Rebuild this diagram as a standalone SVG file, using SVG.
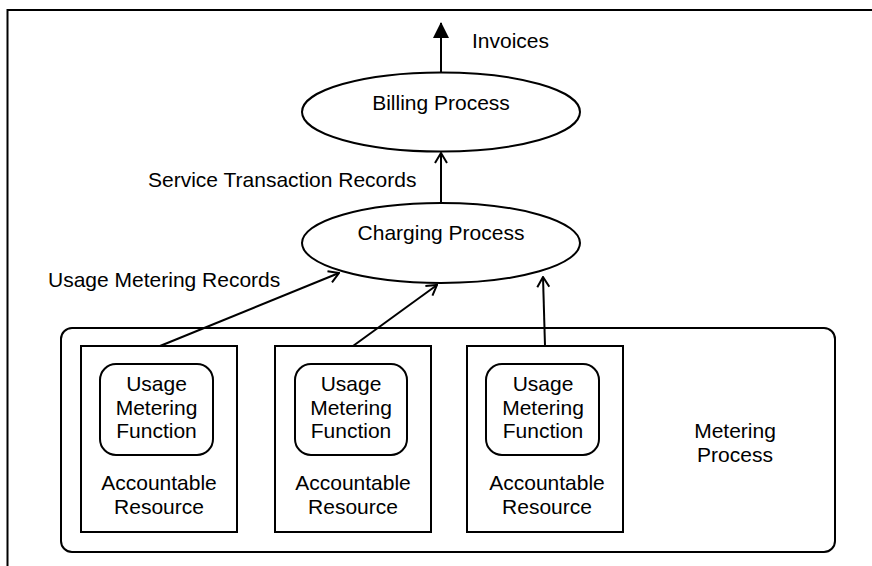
<svg xmlns="http://www.w3.org/2000/svg" width="872" height="566" viewBox="0 0 872 566">
<defs>
<style>
text{font-family:"Liberation Sans",Arial,sans-serif;font-size:21px;fill:#000}
.c{text-anchor:middle}
.s{fill:none;stroke:#000;stroke-width:2}
.ln{fill:none;stroke:#000;stroke-width:2}
</style>
<marker id="open" viewBox="0 0 12 14" refX="11" refY="7" markerWidth="12" markerHeight="14" markerUnits="userSpaceOnUse" orient="auto">
<path d="M1,1 L11,7 L1,13" fill="none" stroke="#000" stroke-width="2"/>
</marker>
<marker id="solid" viewBox="0 0 16 16" refX="15" refY="8" markerWidth="16" markerHeight="16" markerUnits="userSpaceOnUse" orient="auto">
<path d="M0,0 L16,8 L0,16 Z" fill="#000"/>
</marker>
</defs>
<rect width="872" height="566" fill="#fff"/>
<path d="M7.5,566 L7.5,10 L872,10" class="s"/>

<g id="billing">
<ellipse cx="441" cy="112" rx="139" ry="39.5" class="s" fill="#fff"/>
<text x="441" y="110" class="c">Billing Process</text>
</g>
<g id="charging">
<ellipse cx="441" cy="243" rx="139" ry="40" class="s" fill="#fff"/>
<text x="441" y="240" class="c">Charging Process</text>
</g>
<g id="metering">
<rect x="61" y="328" width="774" height="224" rx="11" class="s"/>
<text x="735" y="438" class="c">Metering</text>
<text x="735" y="462" class="c">Process</text>
</g>
<g id="resource1">
<rect x="81" y="346" width="156" height="186" class="s"/>
<rect x="100" y="364" width="113" height="91" rx="16" class="s"/>
<text x="156.5" y="391" class="c">Usage</text>
<text x="156.5" y="415" class="c">Metering</text>
<text x="156.5" y="438" class="c">Function</text>
<text x="159" y="490" class="c">Accountable</text>
<text x="159" y="514" class="c">Resource</text>
</g>
<g id="resource2">
<rect x="275" y="346" width="156" height="186" class="s"/>
<rect x="295" y="364" width="112" height="91" rx="16" class="s"/>
<text x="351" y="391" class="c">Usage</text>
<text x="351" y="415" class="c">Metering</text>
<text x="351" y="438" class="c">Function</text>
<text x="353" y="490" class="c">Accountable</text>
<text x="353" y="514" class="c">Resource</text>
</g>
<g id="resource3">
<rect x="467" y="346" width="156" height="186" class="s"/>
<rect x="486" y="364" width="113" height="91" rx="16" class="s"/>
<text x="543" y="391" class="c">Usage</text>
<text x="543" y="415" class="c">Metering</text>
<text x="543" y="438" class="c">Function</text>
<text x="547" y="490" class="c">Accountable</text>
<text x="547" y="514" class="c">Resource</text>
</g>

<g id="connectors">
<line x1="441" y1="72.5" x2="441" y2="23" class="ln" marker-end="url(#solid)"/>
<line x1="441" y1="203" x2="441" y2="153" class="ln" marker-end="url(#open)"/>
<line x1="160" y1="346" x2="339" y2="273" class="ln" marker-end="url(#open)"/>
<line x1="353" y1="346" x2="437" y2="285" class="ln" marker-end="url(#open)"/>
<line x1="545" y1="346" x2="543" y2="277" class="ln" marker-end="url(#open)"/>
<text x="472" y="48">Invoices</text>
<text x="148" y="187">Service Transaction Records</text>
<text x="48" y="287">Usage Metering Records</text>
</g>
</svg>
